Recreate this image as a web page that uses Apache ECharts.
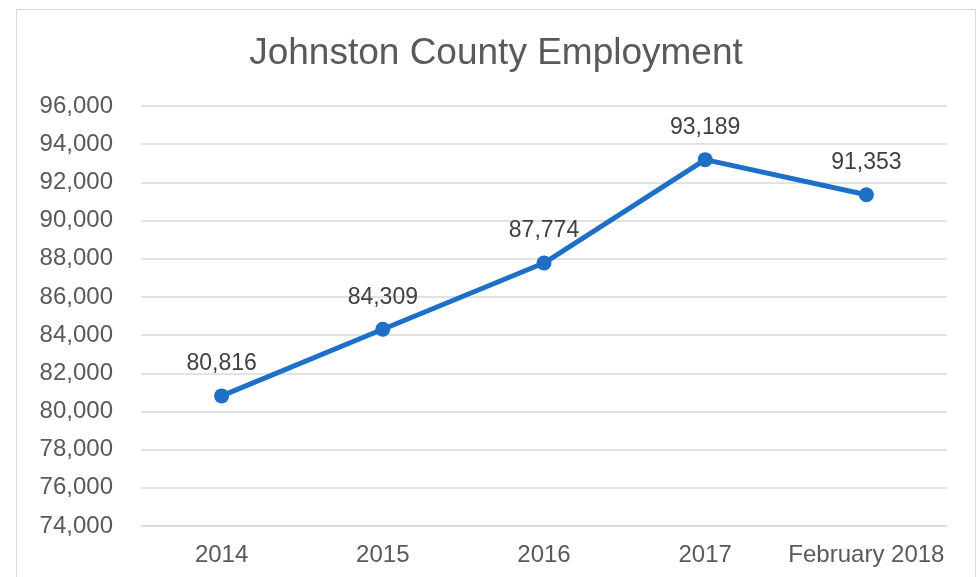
<!DOCTYPE html>
<html lang="en">
	<head>
		<meta charset="UTF-8" />
		<title>Johnston County Employment</title>
		<style>
			* {
				box-sizing: border-box;
				margin: 0;
				padding: 0;
			}

			body {
				background-color: #ffffff;
			}

			.container {
				position: absolute;
				left: 16px;
				top: 9px;
				width: 960px;
				height: 580px;
				border: 1px solid #d9d9d9;
				background-color: #ffffff;
			}
		</style>
	</head>
	<body>
		<div class="container" id="chart"></div>
		<script src="https://cdn.jsdelivr.net/npm/echarts@6/dist/echarts.min.js"></script>
		<script>
			// 数据
			var categories = ['2014', '2015', '2016', '2017', 'February 2018']
			var employment = [80816, 84309, 87774, 93189, 91353]
			var yMin = 74000
			var yMax = 96000
			var yStep = 2000

			var chart = echarts.init(document.getElementById('chart'))
			chart.setOption({
				animation: false,
				textStyle: {
					fontFamily: 'Liberation Sans, Arial, sans-serif'
				},
				title: {
					text: 'Johnston County Employment',
					left: 'center',
					top: 20,
					textStyle: {
						color: '#595959',
						fontSize: 37,
						fontWeight: 'normal',
						fontFamily: 'Liberation Sans, Arial, sans-serif'
					}
				},
				grid: {
					left: 124,
					right: 28,
					top: 96,
					bottom: 62
				},
				xAxis: {
					type: 'category',
					data: categories,
					axisLine: {
						lineStyle: {
							color: '#d9d9d9',
							width: 1.5
						}
					},
					axisTick: {
						show: false
					},
					axisLabel: {
						interval: 0,
						color: '#595959',
						fontSize: 24,
						margin: 17
					}
				},
				yAxis: {
					type: 'value',
					min: yMin,
					max: yMax,
					interval: yStep,
					axisLine: {
						show: false
					},
					axisTick: {
						show: false
					},
					splitLine: {
						lineStyle: {
							color: '#d9d9d9',
							width: 1.5
						}
					},
					axisLabel: {
						color: '#595959',
						fontSize: 24,
						margin: 28,
						formatter: function (v) {
							return v.toLocaleString('en-US')
						}
					}
				},
				series: [{
					type: 'line',
					data: employment,
					symbol: 'circle',
					symbolSize: 15,
					lineStyle: {
						color: '#1e6fc6',
						width: 5
					},
					itemStyle: {
						color: '#1e6fc6'
					},
					label: {
						show: true,
						position: 'top',
						distance: 13,
						color: '#404040',
						fontSize: 23,
						formatter: function (p) {
							return p.value.toLocaleString('en-US')
						}
					}
				}]
			})
		</script>
	</body>
</html>
